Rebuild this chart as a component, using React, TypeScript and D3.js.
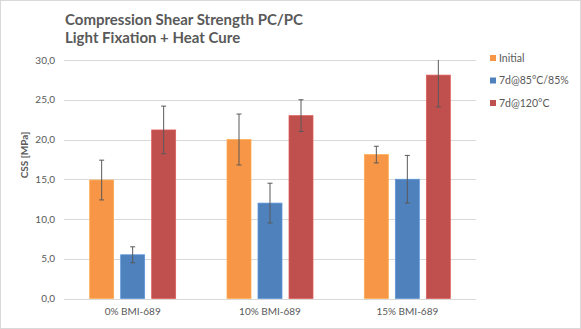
import React from "react";
import * as d3 from "d3";

const categories = ["0% BMI-689", "10% BMI-689", "15% BMI-689"];
const seriesNames = ["Initial", "7d@85°C/85%", "7d@120°C"];
const initialValues = [14.9, 20.0, 18.1];
const initialErrors = [2.5, 3.2, 1.05];
const humidValues = [5.5, 12.0, 15.0];
const humidErrors = [1.0, 2.5, 3.0];
const heatValues = [21.2, 23.0, 28.1];
const heatErrors = [3.0, 2.0, 4.0];
const yTicks = [0, 5, 10, 15, 20, 25, 30];
const colors = ["#F79646", "#4F81BD", "#C0504D"];

const W = 581;
const H = 329;
const M = { left: 64, right: 105, top: 60, bottom: 30.5 };
const FONT = "Lato, 'Open Sans', sans-serif";

export default function App() {
  const values = [initialValues, humidValues, heatValues];
  const errors = [initialErrors, humidErrors, heatErrors];
  const x0 = d3.scaleBand().domain(categories).range([M.left, W - M.right]).paddingInner(0).paddingOuter(0);
  const y = d3.scaleLinear().domain([0, 30]).range([H - M.bottom, M.top]);
  const bw = x0.bandwidth();
  const barW = 24;
  const gap = 7;
  const groupW = 3 * barW + 2 * gap;
  const fmt = (v: number) => v.toFixed(1).replace(".", ",");
  const clampY = (v: number) => y(Math.min(30, Math.max(0, v)));

  return (
    <svg width={W} height={H} style={{ position: "absolute", left: 0, top: 0, background: "#fff" }} fontFamily={FONT}>
      <rect x={0.5} y={0.5} width={W - 1} height={H - 1} fill="#fff" stroke="#d9d9d9" />
      <text x={65} y={25} fontSize={15} fontWeight="bold" fill="#595959">Compression Shear Strength PC/PC</text>
      <text x={65} y={43} fontSize={15} fontWeight="bold" fill="#595959">Light Fixation + Heat Cure</text>
      {yTicks.map((t) => (
        <g key={t}>
          <line x1={M.left} x2={W - M.right} y1={Math.round(y(t)) + 0.5} y2={Math.round(y(t)) + 0.5} stroke="#d9d9d9" strokeWidth={1} />
          <text x={55} y={y(t) + 3.5} fontSize={10} fill="#595959" textAnchor="end">{fmt(t)}</text>
        </g>
      ))}
      <text transform={`translate(27.5,155) rotate(-90)`} fontSize={10} fontWeight="bold" fill="#595959" textAnchor="middle">CSS [MPa]</text>
      {categories.map((c, ci) => {
        const start = (x0(c) as number) + (bw - groupW) / 2;
        return (
          <g key={c}>
            {values.map((vals, si) => {
              const bx = start + si * (barW + gap);
              const top = clampY(vals[ci]);
              return (
                <rect key={si} x={bx} y={top} width={barW} height={y(0) - top} fill={colors[si]} stroke={d3.color(colors[si])!.brighter(0.4).toString()} strokeWidth={0.75} />
              );
            })}
            {values.map((vals, si) => {
              const cx = start + si * (barW + gap) + barW / 2;
              const v = vals[ci];
              const e = errors[si][ci];
              const hi = v + e;
              const lo = v - e;
              return (
                <g key={"e" + si} stroke="#595959" strokeWidth={1}>
                  <line x1={cx} x2={cx} y1={clampY(hi)} y2={clampY(lo)} />
                  {hi <= 30 && <line x1={cx - 2.5} x2={cx + 2.5} y1={y(hi)} y2={y(hi)} />}
                  <line x1={cx - 2.5} x2={cx + 2.5} y1={y(lo)} y2={y(lo)} />
                </g>
              );
            })}
            <text x={(x0(c) as number) + bw / 2} y={315} fontSize={10} fill="#595959" textAnchor="middle">{c}</text>
          </g>
        );
      })}
      {seriesNames.map((s, i) => (
        <g key={s}>
          <rect x={490} y={55 + i * 22.5} width={6} height={6} fill={colors[i]} />
          <text x={499} y={61.5 + i * 22.5} fontSize={10.5} fill="#595959">{s}</text>
        </g>
      ))}
    </svg>
  );
}
